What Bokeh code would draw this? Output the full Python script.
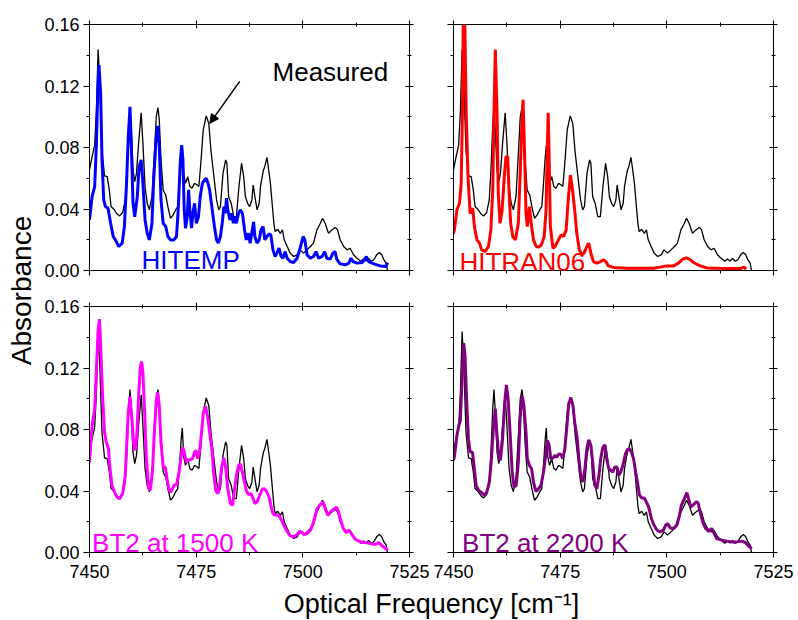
import math
from bokeh.plotting import figure
from bokeh.models import (Range1d, FixedTicker, NumeralTickFormatter, LinearAxis,
                          Label, Arrow, NormalHead)
from bokeh.layouts import row, column
from bokeh.embed import file_html
from bokeh.resources import INLINE

FONT = "Liberation Sans"

# ---------------- data ----------------
x_major = [7450, 7475, 7500, 7525]
x_minor = [7462.5, 7487.5, 7512.5]
y_major = [0.0, 0.04, 0.08, 0.12, 0.16]
y_minor = [0.02, 0.06, 0.10, 0.14]

measured_x = [7450.0, 7450.61, 7451.21, 7451.62, 7452.02, 7452.42, 7452.93, 7453.53, 7454.14, 7454.64,
              7455.05, 7455.65, 7456.46, 7457.07, 7457.77, 7458.38, 7458.78, 7459.19, 7459.49, 7459.79,
              7460.20, 7460.60, 7461.00, 7461.51, 7462.11, 7462.52, 7463.02, 7463.53, 7464.03, 7464.64,
              7465.24, 7465.65, 7466.05, 7466.35, 7466.76, 7467.27, 7467.87, 7468.37, 7468.98, 7469.58,
              7470.19, 7470.69, 7471.10, 7471.50, 7471.75, 7472.10, 7472.51, 7473.02, 7473.52, 7474.03,
              7474.63, 7475.24, 7475.64, 7476.15, 7476.65, 7477.36, 7477.96, 7478.47, 7479.07, 7479.78,
              7480.28, 7480.69, 7481.29, 7481.90, 7482.20, 7482.61, 7483.21, 7483.82, 7484.42, 7485.03,
              7485.64, 7486.14, 7486.54, 7487.05, 7487.55, 7488.06, 7488.36, 7488.77, 7489.27, 7489.77,
              7490.08, 7490.48, 7490.78, 7491.08, 7491.59, 7491.90, 7492.40, 7492.80, 7493.21, 7493.51,
              7494.12, 7494.72, 7495.22, 7495.63, 7496.34, 7497.04, 7497.85, 7498.66, 7499.36, 7500.17,
              7500.98, 7501.78, 7502.49, 7503.30, 7504.11, 7504.61, 7505.22, 7506.02, 7506.83, 7507.64,
              7508.14, 7508.75, 7509.56, 7510.37, 7511.07, 7511.88, 7512.50, 7513.09, 7513.60, 7514.20,
              7514.80, 7515.42, 7516.00, 7516.63, 7517.30, 7517.94, 7518.50, 7519.01, 7519.53, 7519.84]
measured_y = [0.0654, 0.0740, 0.0816, 0.1040, 0.1437, 0.1217, 0.0780, 0.0615, 0.0610, 0.0524,
              0.0416, 0.0400, 0.0368, 0.0355, 0.0377, 0.0459, 0.0654, 0.0935, 0.1060, 0.0914,
              0.0654, 0.0578, 0.0630, 0.0827, 0.1026, 0.0827, 0.0546, 0.0437, 0.0394, 0.0480,
              0.0780, 0.1000, 0.1060, 0.0980, 0.0720, 0.0524, 0.0490, 0.0416, 0.0340, 0.0360,
              0.0394, 0.0416, 0.0567, 0.0740, 0.0810, 0.0620, 0.0567, 0.0610, 0.0546, 0.0535,
              0.0567, 0.0556, 0.0546, 0.0719, 0.0914, 0.1005, 0.0957, 0.0780, 0.0632, 0.0459,
              0.0394, 0.0416, 0.0632, 0.0719, 0.0697, 0.0480, 0.0437, 0.0350, 0.0350, 0.0546,
              0.0697, 0.0610, 0.0480, 0.0437, 0.0416, 0.0459, 0.0556, 0.0480, 0.0394, 0.0437,
              0.0546, 0.0610, 0.0654, 0.0675, 0.0736, 0.0675, 0.0567, 0.0437, 0.0307, 0.0253,
              0.0268, 0.0242, 0.0264, 0.0200, 0.0156, 0.0113, 0.0091, 0.0102, 0.0134, 0.0113,
              0.0134, 0.0156, 0.0178, 0.0264, 0.0307, 0.0340, 0.0307, 0.0242, 0.0264, 0.0281,
              0.0264, 0.0200, 0.0156, 0.0134, 0.0145, 0.0102, 0.0085, 0.0072, 0.0060, 0.0075,
              0.0062, 0.0078, 0.0060, 0.0070, 0.0102, 0.0117, 0.0102, 0.0069, 0.0048, 0.0000]

hitemp_x = [7450.0, 7450.61, 7451.21, 7451.62, 7451.92, 7452.22, 7452.62, 7452.93, 7453.33, 7453.74,
            7454.34, 7454.95, 7455.55, 7456.06, 7456.86, 7457.67, 7458.18, 7458.68, 7459.09, 7459.49,
            7459.79, 7460.20, 7460.60, 7461.20, 7461.61, 7462.11, 7462.52, 7463.02, 7463.53, 7464.03,
            7464.64, 7465.04, 7465.55, 7465.95, 7466.35, 7466.76, 7467.27, 7467.87, 7468.37, 7468.98,
            7469.79, 7470.39, 7470.79, 7471.30, 7471.60, 7471.90, 7472.20, 7472.51, 7472.91, 7473.22,
            7473.52, 7473.92, 7474.23, 7474.63, 7475.04, 7475.54, 7475.95, 7476.46, 7476.96, 7477.36,
            7477.76, 7478.16, 7478.77, 7479.28, 7479.78, 7480.19, 7480.69, 7481.10, 7481.50, 7481.80,
            7482.11, 7482.41, 7482.92, 7483.32, 7483.72, 7484.02, 7484.42, 7484.93, 7485.33, 7485.84,
            7486.34, 7486.75, 7487.25, 7487.65, 7488.16, 7488.46, 7488.77, 7489.27, 7489.77, 7490.18,
            7490.68, 7491.08, 7491.59, 7492.09, 7492.50, 7493.00, 7493.51, 7493.92, 7494.42, 7494.93,
            7495.33, 7495.83, 7496.34, 7497.04, 7497.85, 7498.66, 7499.36, 7500.07, 7500.47, 7500.98,
            7501.78, 7502.49, 7503.10, 7503.70, 7504.51, 7505.12, 7505.62, 7506.43, 7507.04, 7507.54,
            7507.95, 7508.75, 7509.97, 7510.78, 7511.28, 7511.78, 7512.69, 7513.90, 7514.91, 7515.42,
            7516.63, 7518.14, 7519.53, 7519.84]
hitemp_y = [0.0329, 0.0480, 0.0546, 0.0827, 0.1150, 0.1336, 0.1150, 0.0720, 0.0459, 0.0416,
            0.0405, 0.0307, 0.0221, 0.0199, 0.0156, 0.0178, 0.0286, 0.0567, 0.0870, 0.1065,
            0.0827, 0.0437, 0.0350, 0.0480, 0.0675, 0.0719, 0.0567, 0.0329, 0.0242, 0.0199,
            0.0307, 0.0589, 0.0827, 0.0940, 0.0827, 0.0459, 0.0307, 0.0286, 0.0221, 0.0199,
            0.0199, 0.0221, 0.0394, 0.0719, 0.0816, 0.0719, 0.0394, 0.0275, 0.0350, 0.0524,
            0.0394, 0.0275, 0.0372, 0.0437, 0.0307, 0.0350, 0.0480, 0.0567, 0.0589, 0.0600,
            0.0567, 0.0524, 0.0394, 0.0286, 0.0199, 0.0178, 0.0221, 0.0307, 0.0416, 0.0372,
            0.0470, 0.0394, 0.0329, 0.0372, 0.0307, 0.0350, 0.0307, 0.0372, 0.0394, 0.0372,
            0.0264, 0.0199, 0.0242, 0.0178, 0.0264, 0.0316, 0.0221, 0.0178, 0.0199, 0.0264,
            0.0286, 0.0199, 0.0221, 0.0238, 0.0232, 0.0134, 0.0091, 0.0113, 0.0145, 0.0091,
            0.0080, 0.0123, 0.0080, 0.0058, 0.0052, 0.0080, 0.0145, 0.0221, 0.0199, 0.0102,
            0.0080, 0.0091, 0.0123, 0.0080, 0.0091, 0.0123, 0.0080, 0.0074, 0.0113, 0.0123,
            0.0074, 0.0043, 0.0037, 0.0048, 0.0080, 0.0058, 0.0048, 0.0052, 0.0091, 0.0058,
            0.0043, 0.0030, 0.0026, 0.0052]

hitran_x = [7450.0, 7450.2, 7450.8, 7451.4, 7451.8, 7452.1, 7452.35, 7452.6, 7452.97, 7453.4,
            7453.9, 7454.5, 7454.9, 7455.5, 7456.1, 7456.6, 7457.4, 7458.2, 7458.75, 7459.2,
            7459.5, 7459.8, 7460.2, 7460.5, 7460.9, 7461.4, 7461.9, 7462.3, 7462.7, 7463.0,
            7463.4, 7463.9, 7464.5, 7465.2, 7465.6, 7466.0, 7466.3, 7466.6, 7467.0, 7467.3,
            7467.8, 7468.3, 7468.75, 7469.4, 7470.0, 7470.6, 7471.25, 7471.7, 7471.95, 7472.2,
            7472.4, 7472.7, 7473.3, 7473.8, 7474.6, 7475.2, 7475.8, 7476.4, 7476.95, 7477.4,
            7477.9, 7478.4, 7478.9, 7479.5, 7480.1, 7480.6, 7481.25, 7481.7, 7482.2, 7482.8,
            7483.6, 7484.4, 7485.2, 7485.7, 7486.3, 7487.5, 7490.6, 7493.75, 7496.9, 7498.4,
            7500.0, 7501.6, 7502.7, 7503.75, 7504.5, 7505.3, 7506.25, 7507.8, 7509.4, 7513.3,
            7517.2, 7518.1, 7518.6]
hitran_y = [0.0240, 0.0264, 0.0394, 0.0437, 0.0567, 0.1040, 0.1850, 0.1700, 0.1040, 0.0610,
            0.0370, 0.0405, 0.0286, 0.0199, 0.0178, 0.0134, 0.0123, 0.0156, 0.0264, 0.0524,
            0.1040, 0.1437, 0.1040, 0.0500, 0.0307, 0.0394, 0.0610, 0.0740, 0.0740, 0.0524,
            0.0307, 0.0221, 0.0199, 0.0307, 0.0610, 0.0935, 0.1110, 0.0827, 0.0372, 0.0286,
            0.0416, 0.0286, 0.0199, 0.0156, 0.0152, 0.0167, 0.0221, 0.0394, 0.0762, 0.1026,
            0.0762, 0.0286, 0.0145, 0.0156, 0.0199, 0.0232, 0.0221, 0.0264, 0.0480, 0.0621,
            0.0524, 0.0394, 0.0242, 0.0134, 0.0102, 0.0113, 0.0156, 0.0178, 0.0113, 0.0058,
            0.0048, 0.0058, 0.0069, 0.0058, 0.0030, 0.0020, 0.0015, 0.0015, 0.0015, 0.0022,
            0.0030, 0.0030, 0.0048, 0.0074, 0.0082, 0.0074, 0.0052, 0.0030, 0.0017, 0.0013,
            0.0013, 0.0022, 0.0009]

bt2_1500_x = [7450.0, 7450.61, 7451.21, 7451.62, 7452.02, 7452.32, 7452.62, 7453.03, 7453.53, 7453.94,
              7454.44, 7454.74, 7455.25, 7455.86, 7456.46, 7457.07, 7457.77, 7458.38, 7458.78, 7459.09,
              7459.49, 7459.89, 7460.30, 7460.70, 7461.10, 7461.51, 7461.91, 7462.21, 7462.52, 7462.92,
              7463.33, 7463.83, 7464.24, 7464.74, 7465.24, 7465.65, 7465.95, 7466.35, 7466.76, 7467.27,
              7467.77, 7468.17, 7468.68, 7469.08, 7469.79, 7470.39, 7471.00, 7471.50, 7471.80, 7472.20,
              7472.71, 7473.22, 7473.62, 7474.13, 7474.63, 7474.93, 7475.34, 7475.84, 7476.25, 7476.65,
              7477.16, 7477.66, 7478.16, 7478.77, 7479.07, 7479.58, 7480.09, 7480.49, 7480.99, 7481.50,
              7481.90, 7482.41, 7483.02, 7483.52, 7483.92, 7484.42, 7484.93, 7485.33, 7485.84, 7486.34,
              7486.75, 7487.25, 7487.86, 7488.36, 7488.77, 7489.27, 7489.87, 7490.48, 7490.98, 7491.49,
              7492.09, 7492.50, 7493.00, 7493.51, 7494.12, 7494.63, 7495.04, 7495.55, 7496.36, 7497.06,
              7497.87, 7498.68, 7499.28, 7499.79, 7500.39, 7500.99, 7501.80, 7502.51, 7503.32, 7503.93,
              7504.73, 7505.24, 7505.85, 7506.46, 7507.27, 7507.87, 7508.38, 7508.78, 7509.49, 7510.19,
              7510.80, 7511.51, 7512.32, 7513.53, 7514.64, 7515.86, 7516.97, 7517.78, 7518.59, 7519.40,
              7519.91]
bt2_1500_y = [0.0588, 0.0826, 0.0934, 0.1190, 0.1450, 0.1518, 0.1345, 0.1040, 0.0780, 0.0718,
              0.0675, 0.0566, 0.0437, 0.0393, 0.0361, 0.0350, 0.0383, 0.0500, 0.0739, 0.0912,
              0.1016, 0.0890, 0.0718, 0.0664, 0.0761, 0.1020, 0.1204, 0.1241, 0.1172, 0.0912,
              0.0610, 0.0426, 0.0404, 0.0523, 0.0804, 0.0988, 0.1042, 0.0956, 0.0718, 0.0556,
              0.0556, 0.0480, 0.0404, 0.0393, 0.0437, 0.0441, 0.0523, 0.0631, 0.0685, 0.0653,
              0.0588, 0.0599, 0.0605, 0.0610, 0.0653, 0.0664, 0.0610, 0.0664, 0.0780, 0.0902,
              0.0951, 0.0890, 0.0780, 0.0653, 0.0523, 0.0404, 0.0383, 0.0437, 0.0556, 0.0614,
              0.0556, 0.0415, 0.0318, 0.0307, 0.0393, 0.0500, 0.0566, 0.0577, 0.0523, 0.0458,
              0.0404, 0.0376, 0.0383, 0.0350, 0.0318, 0.0329, 0.0372, 0.0411, 0.0415, 0.0398,
              0.0361, 0.0307, 0.0253, 0.0242, 0.0246, 0.0231, 0.0210, 0.0177, 0.0134, 0.0108,
              0.0102, 0.0117, 0.0138, 0.0130, 0.0117, 0.0123, 0.0145, 0.0199, 0.0285, 0.0307,
              0.0329, 0.0285, 0.0242, 0.0264, 0.0281, 0.0296, 0.0264, 0.0220, 0.0156, 0.0130,
              0.0145, 0.0117, 0.0086, 0.0069, 0.0065, 0.0058, 0.0052, 0.0065, 0.0043, 0.0026,
              0.0015]

bt2_2200_x = [7450.0, 7450.2, 7450.8, 7451.25, 7451.6, 7452.0, 7452.4, 7452.7, 7453.1, 7453.5,
              7453.9, 7454.45, 7454.8, 7455.3, 7455.9, 7456.6, 7457.2, 7457.8, 7458.4, 7458.9,
              7459.4, 7459.8, 7460.2, 7460.6, 7461.0, 7461.5, 7462.0, 7462.4, 7462.8, 7463.3,
              7463.75, 7464.2, 7464.7, 7465.2, 7465.6, 7466.1, 7466.5, 7467.0, 7467.3, 7467.8,
              7468.3, 7468.75, 7469.3, 7469.8, 7470.5, 7471.1, 7471.6, 7472.0, 7472.4, 7472.8,
              7473.3, 7473.75, 7474.2, 7474.7, 7475.2, 7475.6, 7476.1, 7476.6, 7477.0, 7477.5,
              7478.0, 7478.4, 7478.9, 7479.4, 7479.8, 7480.3, 7480.8, 7481.25, 7481.7, 7482.2,
              7482.7, 7483.1, 7483.6, 7484.1, 7484.5, 7485.0, 7485.5, 7485.9, 7486.4, 7486.9,
              7487.3, 7487.8, 7488.3, 7488.75, 7489.2, 7489.7, 7490.3, 7490.8, 7491.25, 7491.7,
              7492.2, 7492.7, 7493.1, 7493.6, 7494.1, 7494.7, 7495.3, 7495.8, 7496.4, 7497.0,
              7497.7, 7498.4, 7499.2, 7499.7, 7500.2, 7500.8, 7501.6, 7502.3, 7502.97, 7503.4,
              7504.1, 7504.7, 7505.2, 7505.6, 7506.25, 7506.9, 7507.3, 7507.8, 7508.4, 7509.1,
              7509.8, 7510.5, 7511.1, 7511.7, 7512.9, 7514.1, 7515.2, 7516.4, 7517.6, 7518.4,
              7519.1, 7519.9]
bt2_2200_y = [0.0600, 0.0620, 0.0761, 0.0826, 0.0858, 0.1129, 0.1362, 0.1280, 0.0977, 0.0739,
              0.0653, 0.0653, 0.0566, 0.0437, 0.0404, 0.0389, 0.0372, 0.0393, 0.0458, 0.0610,
              0.0826, 0.0934, 0.0761, 0.0631, 0.0599, 0.0739, 0.0977, 0.1090, 0.0999, 0.0761,
              0.0523, 0.0426, 0.0437, 0.0588, 0.0869, 0.1020, 0.0956, 0.0780, 0.0610, 0.0566,
              0.0545, 0.0458, 0.0398, 0.0411, 0.0437, 0.0523, 0.0631, 0.0729, 0.0700, 0.0610,
              0.0614, 0.0631, 0.0620, 0.0642, 0.0636, 0.0610, 0.0675, 0.0826, 0.0966, 0.1008,
              0.0956, 0.0848, 0.0761, 0.0610, 0.0502, 0.0458, 0.0545, 0.0675, 0.0733, 0.0696,
              0.0566, 0.0437, 0.0415, 0.0502, 0.0610, 0.0685, 0.0700, 0.0610, 0.0545, 0.0534,
              0.0523, 0.0556, 0.0556, 0.0502, 0.0523, 0.0566, 0.0642, 0.0670, 0.0675, 0.0653,
              0.0610, 0.0523, 0.0458, 0.0372, 0.0355, 0.0355, 0.0324, 0.0290, 0.0220, 0.0177,
              0.0145, 0.0134, 0.0145, 0.0177, 0.0188, 0.0160, 0.0156, 0.0177, 0.0242, 0.0307,
              0.0350, 0.0389, 0.0339, 0.0296, 0.0311, 0.0329, 0.0324, 0.0264, 0.0199, 0.0156,
              0.0138, 0.0156, 0.0123, 0.0091, 0.0080, 0.0074, 0.0069, 0.0069, 0.0074, 0.0065,
              0.0043, 0.0026]

panel_labels = ["HITEMP", "HITRAN06", "BT2 at 1500 K", "BT2 at 2200 K"]
panel_colors = ["#0000FF", "#FF0000", "#FF00FF", "#800080"]
annotation_text = "Measured"
x_title = "Optical Frequency [cm\u207b\u00b9]"
y_title = "Absorbance"

# ---------------- helpers ----------------
def style_axis(ax, side, show_labels):
    ax.axis_line_color = "black"
    ax.axis_line_width = 1
    ax.major_tick_line_color = "black"
    ax.minor_tick_line_color = "black"
    ax.major_label_text_font = FONT
    if side in ("left", "below"):
        ax.major_tick_in = 0
        ax.minor_tick_in = 0
        ax.major_tick_out = 6 if side == "left" else 5
        ax.minor_tick_out = 3
    else:
        ax.major_tick_in = 4
        ax.major_tick_out = 4
        ax.minor_tick_in = 2
        ax.minor_tick_out = 2
    if show_labels:
        ax.major_label_text_color = "black"
        ax.major_label_text_font_size = "18px"
        ax.major_label_standoff = 4 if side == "left" else 7
    else:
        ax.major_label_text_color = None
        ax.major_label_text_alpha = 0
        ax.major_label_text_font_size = "1px"
        ax.major_label_standoff = 0


def make_panel(width, height, bl, br, bt, bb, xlabels, ylabels):
    p = figure(width=width, height=height,
               x_range=Range1d(7450, 7525), y_range=Range1d(0, 0.16),
               output_backend="svg", toolbar_location=None,
               min_border_left=bl, min_border_right=br,
               min_border_top=bt, min_border_bottom=bb)
    p.grid.visible = False
    p.outline_line_color = "black"
    p.outline_line_width = 1
    p.background_fill_color = "white"
    p.border_fill_color = "white"
    top_ax = LinearAxis()
    right_ax = LinearAxis()
    p.add_layout(top_ax, "above")
    p.add_layout(right_ax, "right")
    for ax in p.below + p.above:
        ax.ticker = FixedTicker(ticks=x_major, minor_ticks=x_minor)
    for ax in p.left + p.right:
        ax.ticker = FixedTicker(ticks=y_major, minor_ticks=y_minor)
        ax.formatter = NumeralTickFormatter(format="0.00")
    for ax in p.below:
        style_axis(ax, "below", xlabels)
    for ax in p.left:
        style_axis(ax, "left", ylabels)
    style_axis(top_ax, "above", False)
    style_axis(right_ax, "right", False)
    p.line(measured_x, measured_y, line_color="black", line_width=1.3)
    return p


def add_tag(p, text, color, x, y):
    p.add_layout(Label(x=x, y=y, text=text, text_color=color, text_font=FONT,
                       text_font_size="26px", text_align="left",
                       text_baseline="bottom"))

# ---------------- panels ----------------
tl = make_panel(391, 286, 49, 22, 24, 16, False, True)
tr = make_panel(367, 286, 22, 25, 24, 16, False, False)
bl = make_panel(391, 302, 49, 22, 20, 36, True, True)
br = make_panel(367, 302, 22, 25, 20, 36, True, False)

tl.line(hitemp_x, hitemp_y, line_color=panel_colors[0], line_width=3)
tr.line(hitran_x, hitran_y, line_color=panel_colors[1], line_width=3)
bl.line(bt2_1500_x, bt2_1500_y, line_color=panel_colors[2], line_width=3)
br.line(bt2_2200_x, bt2_2200_y, line_color=panel_colors[3], line_width=3)

add_tag(tl, panel_labels[0], panel_colors[0], 7462.2, -0.0030)
add_tag(tr, panel_labels[1], panel_colors[1], 7451.4, -0.0045)
add_tag(bl, panel_labels[2], panel_colors[2], 7450.6, -0.0033)
add_tag(br, panel_labels[3], panel_colors[3], 7452.0, -0.0033)

add_tag(tl, annotation_text, "black", 7492.9, 0.1192)
tl.add_layout(Arrow(end=NormalHead(size=9, fill_color="black", line_color="black"),
                    x_start=7485.2, y_start=0.1230, x_end=7478.2, y_end=0.0957,
                    line_color="black", line_width=1.5))

# ---------------- axis titles ----------------
ylab = figure(width=40, height=620, x_range=Range1d(0, 40), y_range=Range1d(620, 0),
              output_backend="svg", toolbar_location=None, min_border=0,
              x_axis_type=None, y_axis_type=None)
ylab.grid.visible = False
ylab.outline_line_color = None
ylab.add_layout(Label(x=21, y=290, text=y_title, angle=math.pi / 2, text_font=FONT,
                      text_font_size="28px", text_align="center", text_baseline="middle",
                      text_color="black"))

xlab = figure(width=758, height=32, x_range=Range1d(40, 798), y_range=Range1d(620, 588),
              output_backend="svg", toolbar_location=None, min_border=0,
              x_axis_type=None, y_axis_type=None)
xlab.grid.visible = False
xlab.outline_line_color = None
xlab.add_layout(Label(x=431, y=603, text=x_title, text_font=FONT,
                      text_font_size="27px", text_align="center", text_baseline="middle",
                      text_color="black"))

layout = row(ylab, column(row(tl, tr), row(bl, br), xlab))

open("out.html", "w").write(file_html(layout, INLINE))
